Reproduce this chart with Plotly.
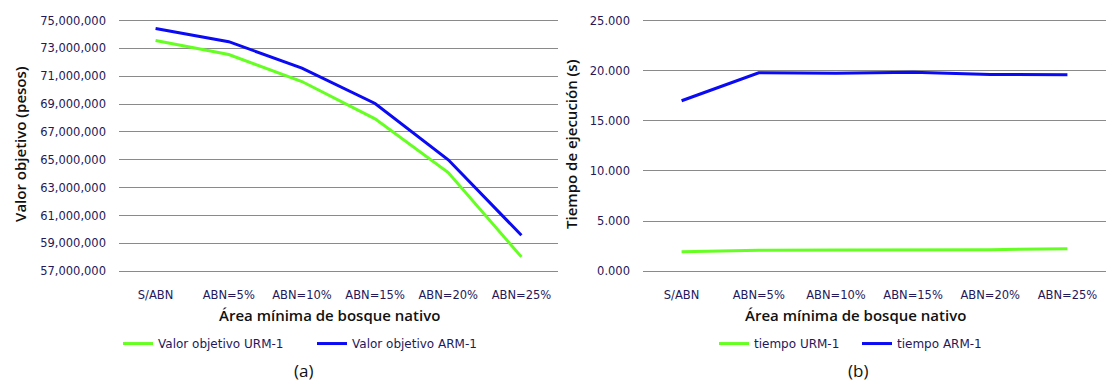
import plotly.graph_objects as go

# Scenario categories (minimum native-forest area)
categories = ["S/ABN", "ABN=5%", "ABN=10%", "ABN=15%", "ABN=20%", "ABN=25%"]

# (a) objective value, pesos
valor_urm1 = [73_570_000, 72_560_000, 70_620_000, 67_940_000, 64_080_000, 58_030_000]
valor_arm1 = [74_420_000, 73_480_000, 71_580_000, 69_040_000, 65_000_000, 59_580_000]

# (b) execution time, seconds
tiempo_urm1 = [1.95, 2.09, 2.12, 2.13, 2.15, 2.24]
tiempo_arm1 = [17.0, 19.78, 19.75, 19.85, 19.62, 19.6]

left_ticks = list(range(57_000_000, 75_000_001, 2_000_000))
right_ticks = [0, 5, 10, 15, 20, 25]

GREEN = "#66ff22"
BLUE = "#0a0af5"
TICK_COLOR = "#24185a"
GRID = "#8a8a8a"
W, H = 1112, 392

x_idx = list(range(len(categories)))

fig = go.Figure()
fig.add_trace(go.Scatter(x=x_idx, y=valor_urm1, mode="lines", name="Valor objetivo URM-1",
                         line=dict(color=GREEN, width=3), xaxis="x", yaxis="y", legend="legend"))
fig.add_trace(go.Scatter(x=x_idx, y=valor_arm1, mode="lines", name="Valor objetivo ARM-1",
                         line=dict(color=BLUE, width=3), xaxis="x", yaxis="y", legend="legend"))
fig.add_trace(go.Scatter(x=x_idx, y=tiempo_urm1, mode="lines", name="tiempo URM-1",
                         line=dict(color=GREEN, width=3), xaxis="x2", yaxis="y2", legend="legend2"))
fig.add_trace(go.Scatter(x=x_idx, y=tiempo_arm1, mode="lines", name="tiempo ARM-1",
                         line=dict(color=BLUE, width=3), xaxis="x2", yaxis="y2", legend="legend2"))

tick_font = dict(family="DejaVu Sans", size=11.5, color=TICK_COLOR)
title_font = dict(family="Open Sans", size=15, color="#111111", weight=600)
legend_font = dict(family="DejaVu Sans", size=12, color=TICK_COLOR)

y_dom = [1 - 274 / H, 1 - 14 / H]

# x-axis line mirrored top and bottom gives the outermost horizontal rules
xaxis_common = dict(
    range=[-0.5, len(categories) - 0.5], tickmode="array", tickvals=x_idx, ticktext=categories,
    showgrid=False, zeroline=False, showline=True, mirror=True, linecolor=GRID, linewidth=1.2,
    ticks="", tickfont=tick_font, ticklabelstandoff=13, fixedrange=True,
)
yaxis_common = dict(
    showgrid=True, gridcolor=GRID, gridwidth=1.2, zeroline=False, showline=False, ticks="",
    tickfont=tick_font, ticklabelstandoff=12, fixedrange=True,
)

legend_common = dict(orientation="h", yanchor="middle", y=1 - 349 / H, font=legend_font,
                     bgcolor="rgba(0,0,0,0)", itemwidth=30, tracegroupgap=0)

fig.update_layout(
    width=W, height=H,
    margin=dict(l=0, r=0, t=0, b=0),
    paper_bgcolor="white", plot_bgcolor="white",
    xaxis=dict(domain=[119 / W, 558 / W], anchor="y", **xaxis_common),
    yaxis=dict(domain=y_dom, anchor="x", range=[57_000_000, 75_000_000], tickvals=left_ticks,
               tickformat=",d", **yaxis_common),
    xaxis2=dict(domain=[643 / W, 1106 / W], anchor="y2", **xaxis_common),
    yaxis2=dict(domain=y_dom, anchor="x2", range=[0, 25], tickvals=right_ticks,
                tickformat=".3f", **yaxis_common),
    legend=dict(x=118 / W, xanchor="left", entrywidth=149, **legend_common),
    legend2=dict(x=714 / W, xanchor="left", entrywidth=98, **legend_common),
    showlegend=True,
)

annotations = [
    dict(text="Valor objetivo (pesos)", x=20 / W, y=1 - 142 / H, textangle=-90),
    dict(text="Tiempo de ejecución (s)", x=571 / W, y=1 - 142 / H, textangle=-90),
    dict(text="Área mínima de bosque nativo", x=329 / W, y=1 - 319 / H),
    dict(text="Área mínima de bosque nativo", x=855 / W, y=1 - 319 / H),
]
for a in annotations:
    fig.add_annotation(xref="paper", yref="paper", showarrow=False, xanchor="center",
                       yanchor="middle", font=title_font, **a)

for label, xc in (("(a)", 303), ("(b)", 858)):
    fig.add_annotation(text=label, xref="paper", yref="paper", x=xc / W, y=1 - 377 / H,
                       showarrow=False, xanchor="center", yanchor="middle",
                       font=dict(family="Open Sans", size=17, color="#111111"))

fig.write_html("out.html")
